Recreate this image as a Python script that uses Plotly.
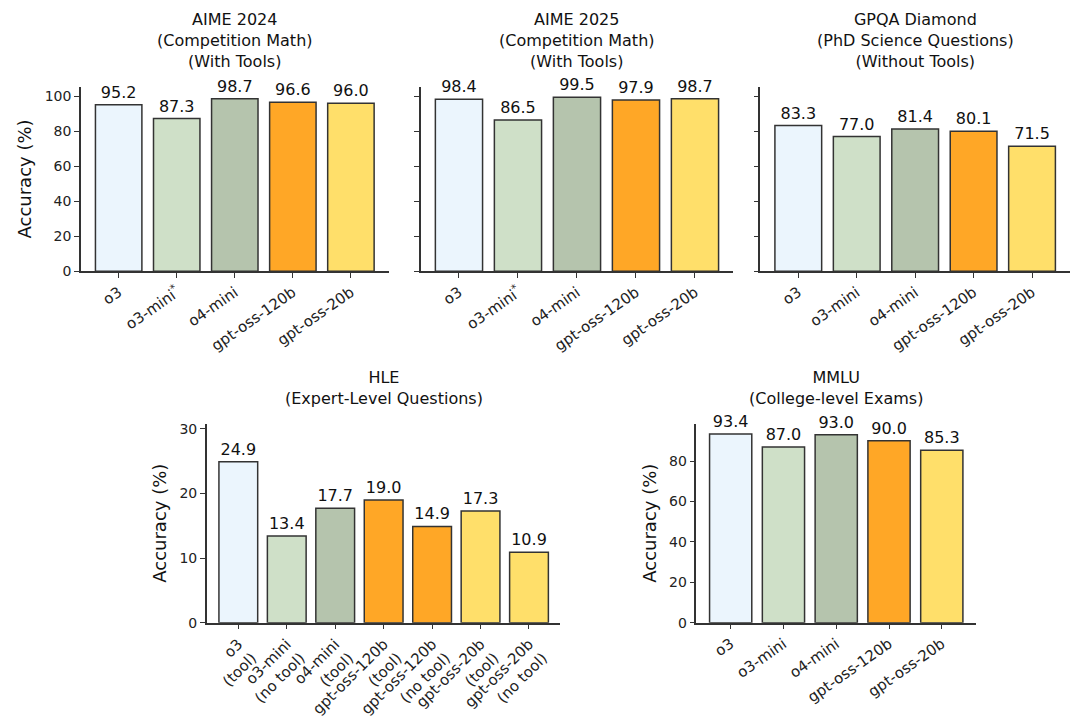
import plotly.graph_objects as go

models = ["o3", "o3-mini<sup>*</sup>", "o4-mini", "gpt-oss-120b", "gpt-oss-20b"]
models_plain = ["o3", "o3-mini", "o4-mini", "gpt-oss-120b", "gpt-oss-20b"]
aime24 = [95.2, 87.3, 98.7, 96.6, 96.0]
aime25 = [98.4, 86.5, 99.5, 97.9, 98.7]
gpqa = [83.3, 77.0, 81.4, 80.1, 71.5]
hle_labels = ["o3<br>(tool)", "o3-mini<br>(no tool)", "o4-mini<br>(tool)", "gpt-oss-120b<br>(tool)",
              "gpt-oss-120b<br>(no tool)", "gpt-oss-20b<br>(tool)", "gpt-oss-20b<br>(no tool)"]
hle = [24.9, 13.4, 17.7, 19.0, 14.9, 17.3, 10.9]
mmlu = [93.4, 87.0, 93.0, 90.0, 85.3]
colors5 = ["#EBF5FD", "#CFE0C8", "#B5C4AD", "#FFA726", "#FFDF6A"]
colors7 = ["#EBF5FD", "#CFE0C8", "#B5C4AD", "#FFA726", "#FFA726", "#FFDF6A", "#FFDF6A"]

W, H = 1080, 724
FONT = "DejaVu Sans"
panels = [
    (72, 380, 78, 268, models, aime24, colors5, "AIME 2024<br>(Competition Math)<br>(With Tools)", 105.5, 20, True, -35, True),
    (412, 725, 78, 268, models, aime25, colors5, "AIME 2025<br>(Competition Math)<br>(With Tools)", 105.5, 20, False, -35, False),
    (752, 1062, 78, 268, models_plain, gpqa, colors5, "GPQA Diamond<br>(PhD Science Questions)<br>(Without Tools)", 105.5, 20, False, -35, False),
    (198, 552, 425, 630, hle_labels, hle, colors7, "HLE<br>(Expert-Level Questions)", 30.8, 10, True, -45, True),
    (688, 968, 425, 630, models_plain, mmlu, colors5, "MMLU<br>(College-level Exams)", 98.5, 20, True, -35, True),
]

fig = go.Figure()
for i, (x0, x1, y0, y1, cats, vals, cols, title, ymax, dt, ylab, ang, showtl) in enumerate(panels):
    n = "" if i == 0 else str(i + 1)
    fig.add_trace(go.Bar(x=list(range(len(cats))), y=vals, marker=dict(color=cols, line=dict(color="#333", width=1.5)),
                         text=[f"{v:.1f}" for v in vals], textposition="outside", cliponaxis=False,
                         textfont=dict(size=16, color="#111", family=FONT), width=0.8,
                         xaxis="x" + n, yaxis="y" + n, showlegend=False))
    fig.layout["xaxis" + n] = dict(domain=[x0 / W, x1 / W], anchor="y" + n, tickvals=list(range(len(cats))),
                                   ticktext=cats, tickangle=ang, showline=True, linecolor="#333", linewidth=1.5,
                                   ticks="outside", ticklen=5, tickcolor="#333", range=[-0.65, len(cats) - 0.35],
                                   showgrid=False, tickfont=dict(size=15, family=FONT, color="#222"))
    fig.layout["yaxis" + n] = dict(domain=[1 - y1 / H, 1 - y0 / H], anchor="x" + n, range=[0, ymax], dtick=dt,
                                   showline=True, linecolor="#333", linewidth=1.5, ticks="outside", ticklen=5,
                                   tickcolor="#333", showgrid=False, zeroline=False, showticklabels=showtl,
                                   tickfont=dict(size=14, family=FONT, color="#222"),
                                   title=dict(text="Accuracy (%)", font=dict(size=18, family=FONT, color="#111"), standoff=8) if ylab else None)
    fig.add_annotation(x=(x0 + x1) / 2 / W, y=1 - (y0 - 14) / H, xref="paper", yref="paper", text=title,
                       showarrow=False, xanchor="center", yanchor="bottom",
                       font=dict(size=16, family=FONT, color="#111"))

fig.update_layout(width=W, height=H, margin=dict(l=0, r=0, t=0, b=0), plot_bgcolor="white", paper_bgcolor="white",
                  bargap=0.2)
fig.write_html("out.html")
